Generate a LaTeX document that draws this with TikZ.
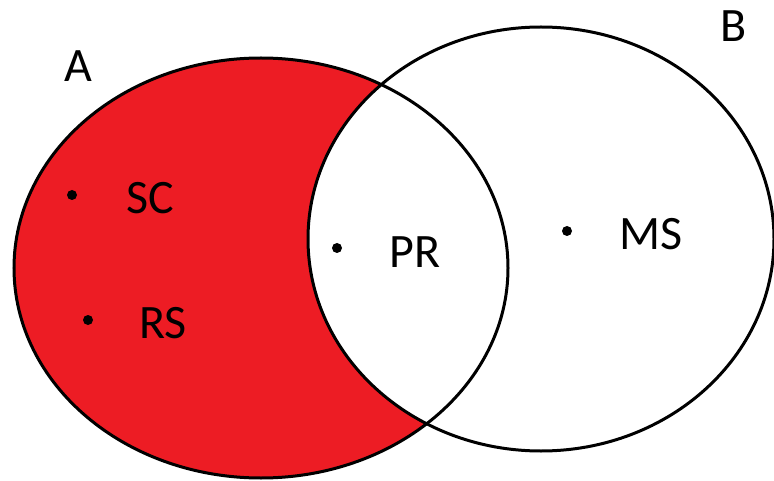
\documentclass[tikz,border=0pt]{standalone}
\usepackage{fontspec}
\setmainfont{Carlito}
\definecolor{setred}{HTML}{ED1C24}
\begin{document}
\begin{tikzpicture}[x=1pt,y=-1pt,
  setline/.style={line width=3pt,black},
  lbl/.style={font=\fontsize{48}{48}\selectfont,inner sep=0pt,anchor=center},
  pt/.style={circle,fill=black,inner sep=0pt,minimum size=10pt}]
\useasboundingbox (0,0) rectangle (774,481);
% set A shaded, the overlap with B left white
\fill[setred] (261,268) ellipse [x radius=247,y radius=210];
\fill[white] (541,239) ellipse [x radius=233,y radius=212];
\draw[setline] (261,268) ellipse [x radius=247,y radius=210];
\draw[setline] (541,239) ellipse [x radius=233,y radius=212];
% set names
\node[lbl] (A) at (78,66) {A};
\node[lbl] (B) at (734,26) {B};
% elements
\node[pt] (dSC) at (72,195) {};
\node[lbl] (SC) at (150,198) {SC};
\node[pt] (dRS) at (88,320) {};
\node[lbl] (RS) at (163,323) {RS};
\node[pt] (dPR) at (337,248) {};
\node[lbl] (PR) at (415,252) {PR};
\node[pt] (dMS) at (567,231) {};
\node[lbl] (MS) at (651,234) {MS};
\end{tikzpicture}
\end{document}
